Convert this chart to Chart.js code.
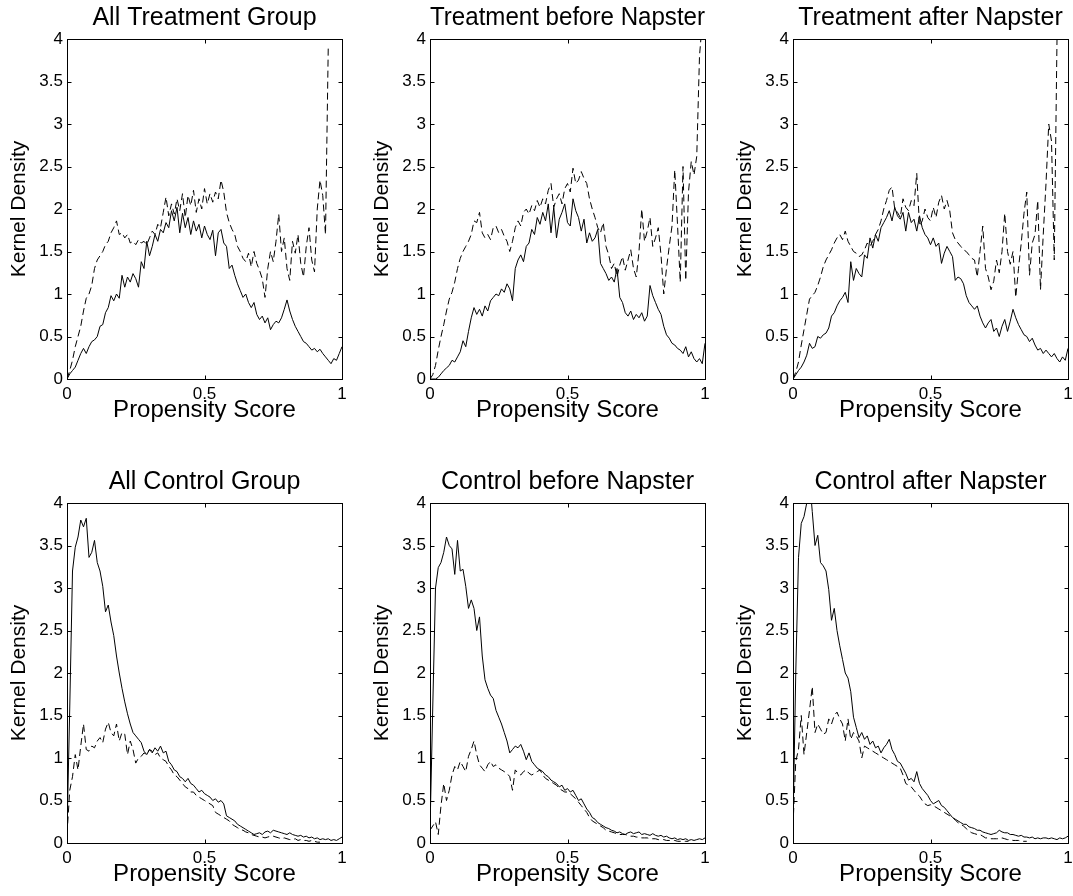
<!doctype html>
<html>

<head>
  <title>Propensity Score Kernel Density</title>
  <script src="https://cdn.jsdelivr.net/npm/chart.js@4.4.0/dist/chart.umd.min.js"></script>
</head>
<style>
  body {
    margin: 0;
    background: #fff;
    overflow: hidden;
    font-family: "Liberation Sans", Arial, sans-serif;
  }

  .panel {
    position: absolute;
  }
</style>

<body>
  <canvas id="p1" class="panel" width="347" height="427" style="left:0px;top:0px"></canvas>
  <canvas id="p2" class="panel" width="347" height="427" style="left:363px;top:0px"></canvas>
  <canvas id="p3" class="panel" width="347" height="427" style="left:726px;top:0px"></canvas>
  <canvas id="p4" class="panel" width="347" height="427" style="left:0px;top:464px"></canvas>
  <canvas id="p5" class="panel" width="347" height="427" style="left:363px;top:464px"></canvas>
  <canvas id="p6" class="panel" width="347" height="427" style="left:726px;top:464px"></canvas>
  <script>
    // propensity score grid
    var GRID = [
      0, 0.01, 0.02, 0.03, 0.04, 0.05, 0.06, 0.07, 0.08, 0.09,
      0.1, 0.11, 0.12, 0.13, 0.14, 0.15, 0.16, 0.17, 0.18, 0.19,
      0.2, 0.21, 0.22, 0.23, 0.24, 0.25, 0.26, 0.27, 0.28, 0.29,
      0.3, 0.31, 0.32, 0.33, 0.34, 0.35, 0.36, 0.37, 0.38, 0.39,
      0.4, 0.41, 0.42, 0.43, 0.44, 0.45, 0.46, 0.47, 0.48, 0.49,
      0.5, 0.51, 0.52, 0.53, 0.54, 0.55, 0.56, 0.57, 0.58, 0.59,
      0.6, 0.61, 0.62, 0.63, 0.64, 0.65, 0.66, 0.67, 0.68, 0.69,
      0.7, 0.71, 0.72, 0.73, 0.74, 0.75, 0.76, 0.77, 0.78, 0.79,
      0.8, 0.81, 0.82, 0.83, 0.84, 0.85, 0.86, 0.87, 0.88, 0.89,
      0.9, 0.91, 0.92, 0.93, 0.94, 0.95, 0.96, 0.97, 0.98, 0.99,
      1
    ];
    var X_TICKS = [0, 0.5, 1];
    var Y_TICKS = [0, 0.5, 1, 1.5, 2, 2.5, 3, 3.5, 4];

    var TREAT_ALL_SOLID = [
      0, 0.06, 0.1, 0.14, 0.22, 0.3, 0.36, 0.3, 0.38, 0.44,
      0.46, 0.5, 0.62, 0.64, 0.78, 0.84, 0.98, 0.92, 1.0, 0.95,
      1.22, 1.08, 1.2, 1.14, 1.24, 1.18, 1.08, 1.38, 1.3, 1.62,
      1.45, 1.56, 1.7, 1.62, 1.76, 1.72, 1.84, 1.78, 1.98, 1.86,
      2.02, 1.72, 1.95, 1.78, 1.9, 1.7, 1.86, 1.74, 1.82, 1.66,
      1.8, 1.7, 1.64, 1.75, 1.45, 1.72, 1.76, 1.6, 1.56, 1.3,
      1.34, 1.22, 1.12, 1.04, 0.96, 1.0, 0.9, 0.84, 0.9, 0.76,
      0.7, 0.74, 0.66, 0.72, 0.58, 0.64, 0.68, 0.66, 0.72, 0.82,
      0.93, 0.8, 0.7, 0.62, 0.56, 0.5, 0.44, 0.42, 0.38, 0.34,
      0.36, 0.32, 0.35, 0.3, 0.26, 0.22, 0.18, 0.24, 0.22, 0.3,
      0.38
    ];
    var TREAT_ALL_DASH = [
      0, 0.1, 0.22, 0.38, 0.5, 0.62, 0.8, 0.95, 1.0, 1.1,
      1.3, 1.4, 1.45, 1.5, 1.58, 1.62, 1.72, 1.78, 1.86, 1.7,
      1.72, 1.66, 1.7, 1.6, 1.62, 1.58, 1.64, 1.6, 1.62, 1.58,
      1.66, 1.74, 1.7, 1.82, 1.78, 1.96, 2.14, 1.92, 2.06, 1.94,
      2.12, 1.98, 2.18, 1.9, 2.16, 2.04, 2.22, 1.96, 2.12, 2.0,
      2.24, 2.06, 2.18, 2.08, 2.2, 2.12, 2.34, 2.2, 1.96, 1.84,
      1.76, 1.7, 1.56, 1.5, 1.42, 1.38, 1.48, 1.32, 1.5, 1.36,
      1.28, 1.18, 0.96, 1.3, 1.5, 1.38, 1.62, 1.94, 1.5, 1.66,
      1.3, 1.16, 1.62, 1.48, 1.7, 1.36, 1.2, 1.56, 1.78, 1.4,
      1.26, 2.0, 2.34, 2.16, 1.7, 3.9, null, null, null, null,
      null
    ];
    var TREAT_BEFORE_SOLID = [
      0, 0, 0, 0.02, 0.06, 0.1, 0.13, 0.16, 0.22, 0.2,
      0.26, 0.32, 0.45, 0.38, 0.56, 0.72, 0.84, 0.76, 0.82, 0.74,
      0.86, 0.8, 0.92, 0.96, 1.0, 0.98, 1.06, 1.02, 1.12, 1.06,
      0.92, 1.3, 1.4, 1.46, 1.38, 1.56, 1.6, 1.76, 1.7, 1.9,
      1.82, 1.96, 1.86, 2.06, 1.72, 2.02, 1.66, 1.88, 1.96, 2.06,
      1.84, 1.8, 2.12, 1.98, 1.9, 1.74, 1.88, 1.6, 1.72, 1.62,
      1.66, 1.76, 1.36, 1.3, 1.24, 1.16, 1.2, 1.14, 1.3, 0.96,
      0.9, 0.78, 0.74, 0.8, 0.7, 0.76, 0.72, 0.78, 0.68, 0.74,
      1.1, 0.98, 0.9, 0.82, 0.76, 0.62, 0.52, 0.48, 0.42, 0.4,
      0.36, 0.34, 0.3, 0.38, 0.26, 0.32, 0.24, 0.2, 0.24, 0.18,
      0.42
    ];
    var TREAT_BEFORE_DASH = [
      0, 0.05, 0.16, 0.34, 0.5, 0.64, 0.8, 0.94, 1.02, 1.14,
      1.3, 1.42, 1.5, 1.56, 1.62, 1.7, 1.86, 1.84, 1.96, 1.72,
      1.66, 1.7, 1.64, 1.78, 1.8, 1.72, 1.76, 1.68, 1.62, 1.5,
      1.62, 1.78, 1.86, 1.8, 1.96, 2.0, 1.94, 2.04, 1.98, 2.1,
      2.02, 2.12, 2.06, 2.22, 2.3, 2.02, 2.12, 2.18, 2.06, 2.24,
      2.3, 2.2, 2.48, 2.3, 2.34, 2.44, 2.36, 2.3, 2.12, 2.0,
      1.9, 1.78, 1.72, 1.84, 1.56, 1.46, 1.3, 1.36, 1.2, 1.34,
      1.44, 1.28, 1.4, 1.52, 1.3, 1.2, 1.5, 2.0, 1.62, 1.74,
      1.9, 1.56, 1.66, 1.78, 1.46, 1.0, 1.3, 1.56, 1.8, 2.46,
      1.82, 1.14, 2.5, 1.16, 2.2, 2.56, 2.4, 2.62, 3.8, 4.2,
      4.4
    ];
    var TREAT_AFTER_SOLID = [
      0, 0.05, 0.1, 0.14, 0.2, 0.28, 0.42, 0.36, 0.38, 0.5,
      0.48, 0.52, 0.54, 0.6, 0.74, 0.78, 0.86, 0.92, 0.96, 1.02,
      0.9, 1.38, 1.16, 1.3, 1.24, 1.2, 1.46, 1.42, 1.66, 1.54,
      1.7, 1.62, 1.78, 1.84, 1.9, 1.98, 1.86, 2.02, 1.92, 1.88,
      1.96, 1.74, 1.96, 1.84, 1.88, 1.74, 1.92, 1.78, 1.7, 1.66,
      1.58, 1.66, 1.56, 1.6, 1.36, 1.48, 1.56, 1.5, 1.44, 1.16,
      1.2, 1.18, 1.12, 0.98, 0.9, 0.86, 0.82, 0.86, 0.74, 0.66,
      0.6, 0.66, 0.7, 0.56, 0.6, 0.5, 0.62, 0.7, 0.56, 0.68,
      0.82, 0.72, 0.64, 0.58, 0.52, 0.5, 0.44, 0.48, 0.4, 0.34,
      0.36, 0.3, 0.34, 0.3, 0.26, 0.3, 0.24, 0.2, 0.26, 0.22,
      0.36
    ];
    var TREAT_AFTER_DASH = [
      0, 0.08, 0.2, 0.4, 0.58, 0.76, 0.94, 0.98, 1.02, 1.1,
      1.2, 1.32, 1.4, 1.46, 1.52, 1.6, 1.66, 1.7, 1.64, 1.74,
      1.62, 1.56, 1.5, 1.48, 1.44, 1.46, 1.52, 1.6, 1.56, 1.62,
      1.7, 1.76, 1.86, 2.0, 2.1, 2.22, 2.26, 2.0, 1.96, 1.9,
      2.12, 2.02, 1.98, 2.1, 2.04, 2.42, 1.8, 1.86, 2.0, 1.9,
      1.86, 2.02, 1.9, 2.08, 2.16, 2.0, 2.1, 1.98, 1.72, 1.64,
      1.6, 1.56, 1.52, 1.5, 1.46, 1.42, 1.4, 1.2, 1.5, 1.8,
      1.3, 1.2, 1.05, 1.15, 1.4, 1.25, 1.5, 1.95, 1.5, 1.35,
      1.5, 0.96, 1.3, 1.6, 1.95, 2.2, 1.22, 1.6, 1.7, 2.1,
      1.05, 1.7, 2.3, 3.0, 2.8, 1.4, 4.0, null, null, null,
      null
    ];
    var CTRL_ALL_SOLID = [
      0.12, 1.6, 3.2, 3.48, 3.6, 3.8, 3.72, 3.82, 3.36, 3.42,
      3.56, 3.3, 3.2, 3.02, 2.72, 2.8, 2.6, 2.44, 2.2, 2.0,
      1.82, 1.66, 1.52, 1.4, 1.3, 1.26, 1.22, 1.18, 1.08, 1.04,
      1.1, 1.06, 1.12, 1.08, 1.14, 1.06, 1.08, 0.96, 0.92, 0.86,
      0.84, 0.78, 0.76, 0.72, 0.76, 0.7, 0.68, 0.64, 0.6, 0.62,
      0.58, 0.56, 0.54, 0.5, 0.52, 0.48, 0.5, 0.46, 0.32, 0.3,
      0.28, 0.26, 0.22, 0.2, 0.18, 0.16, 0.14, 0.12, 0.1, 0.11,
      0.12, 0.1, 0.13, 0.14, 0.12, 0.15, 0.14, 0.13, 0.12, 0.11,
      0.1, 0.12, 0.1, 0.09, 0.08, 0.09, 0.07, 0.08, 0.06, 0.07,
      0.05, 0.06, 0.04, 0.05, 0.04, 0.05, 0.03, 0.04, 0.03, 0.05,
      0.07
    ];
    var CTRL_ALL_DASH = [
      0.1, 0.62, 0.78, 1.04, 0.86, 1.14, 1.4, 1.1, 1.08, 1.14,
      1.12, 1.2, 1.24, 1.18, 1.34, 1.42, 1.3, 1.26, 1.4, 1.2,
      1.3, 1.28, 1.04, 1.2, 1.1, 0.94, 1.0, 1.02, 1.06, 1.04,
      1.1, 1.08, 1.04, 1.06, 1.0, 0.98, 0.96, 0.9, 0.86, 0.8,
      0.78, 0.74, 0.7, 0.66, 0.64, 0.6, 0.6, 0.56, 0.54, 0.52,
      0.5, 0.48, 0.46, 0.44, 0.36, 0.34, 0.32, 0.3, 0.28, 0.26,
      0.22, 0.2, 0.18, 0.16, 0.15, 0.13, 0.12, 0.1, 0.09, 0.08,
      0.07, 0.07, 0.06, 0.07, 0.08, 0.08, 0.07, 0.06, 0.05, 0.06,
      0.05, 0.04, 0.04, 0.05, 0.03, 0.04, 0.03, 0.03, 0.02, 0.03,
      0.02, 0.01, 0.01, null, null, null, null, null, null, null,
      null
    ];
    var CTRL_BEFORE_SOLID = [
      0.15, 1.6, 3.0, 3.24, 3.3, 3.42, 3.6, 3.5, 3.46, 3.16,
      3.56, 3.2, 3.22, 3.02, 2.76, 2.86, 2.76, 2.5, 2.66, 2.2,
      1.92, 1.82, 1.74, 1.7, 1.56, 1.48, 1.4, 1.3, 1.2, 1.06,
      1.1, 1.14, 1.12, 1.16, 1.08, 0.98, 1.06, 0.96, 0.92, 0.88,
      0.86, 0.84, 0.8, 0.78, 0.74, 0.72, 0.7, 0.66, 0.68, 0.62,
      0.64, 0.6, 0.62, 0.56, 0.5, 0.52, 0.46, 0.4, 0.36, 0.3,
      0.28, 0.24, 0.22, 0.2, 0.18, 0.17, 0.15, 0.14, 0.12, 0.13,
      0.11, 0.1, 0.12, 0.13, 0.11, 0.12, 0.13, 0.1, 0.11, 0.1,
      0.09, 0.11, 0.09, 0.08, 0.09, 0.07, 0.08, 0.06, 0.05, 0.06,
      0.04, 0.05, 0.04, 0.05, 0.03, 0.04, 0.03, 0.04, 0.05, 0.04,
      0.06
    ];
    var CTRL_BEFORE_DASH = [
      0.15, 0.2, 0.25, 0.1, 0.44, 0.7, 0.5, 0.62, 0.8, 0.9,
      0.86, 0.96, 0.9, 0.84, 1.02, 1.1, 1.2, 1.04, 0.92, 0.88,
      0.84, 0.92, 0.96, 0.9, 0.92, 0.88, 0.86, 0.84, 0.82, 0.78,
      0.62, 0.86, 0.82, 0.8, 0.84, 0.86, 0.82, 0.8, 0.82, 0.84,
      0.86, 0.8, 0.76, 0.74, 0.72, 0.7, 0.68, 0.64, 0.62, 0.6,
      0.6, 0.58, 0.55, 0.52, 0.48, 0.44, 0.4, 0.36, 0.3, 0.26,
      0.24, 0.22, 0.2, 0.18, 0.15, 0.14, 0.13, 0.12, 0.11, 0.1,
      0.1, 0.1, 0.09, 0.08, 0.08, 0.07, 0.07, 0.06, 0.06, 0.06,
      0.05, 0.05, 0.05, 0.04, 0.04, 0.04, 0.03, 0.03, 0.03, 0.03,
      0.02, 0.02, 0.02, 0.02, 0.02, null, null, null, null, null,
      null
    ];
    var CTRL_AFTER_SOLID = [
      0.2, 2.0, 3.36, 3.76, 3.84, 4.0, 4.3, 3.9, 3.5, 3.62,
      3.3, 3.26, 3.2, 2.98, 2.62, 2.76, 2.5, 2.32, 2.16, 2.0,
      1.94, 1.78, 1.48, 1.36, 1.24, 1.3, 1.22, 1.26, 1.16, 1.2,
      1.12, 1.14, 1.06, 1.12, 1.16, 1.22, 1.1, 1.04, 0.96, 0.94,
      0.88, 0.82, 0.74, 0.76, 0.72, 0.84, 0.7, 0.64, 0.6, 0.56,
      0.5, 0.46, 0.48, 0.5, 0.44, 0.42, 0.38, 0.34, 0.3, 0.28,
      0.26, 0.24, 0.22, 0.22, 0.19, 0.18, 0.17, 0.15, 0.15, 0.13,
      0.12, 0.11, 0.1, 0.11, 0.12, 0.15, 0.13, 0.12, 0.12, 0.1,
      0.1, 0.09, 0.08, 0.09, 0.07, 0.07, 0.06, 0.07, 0.05, 0.06,
      0.05, 0.06, 0.06, 0.05, 0.06, 0.05, 0.04, 0.06, 0.05, 0.06,
      0.08
    ];
    var CTRL_AFTER_DASH = [
      0.2, 0.96, 1.1, 1.5, 1.04, 1.3, 1.56, 1.84, 1.3, 1.4,
      1.34, 1.28, 1.3, 1.46, 1.4, 1.5, 1.54, 1.46, 1.4, 1.2,
      1.46, 1.22, 1.3, 1.26, 1.2, 1.0, 1.14, 1.12, 1.1, 1.08,
      1.06, 1.04, 1.02, 1.0, 0.98, 0.96, 0.94, 0.92, 0.9, 0.88,
      0.8, 0.7, 0.68, 0.66, 0.62, 0.58, 0.55, 0.5, 0.46, 0.44,
      0.45, 0.44, 0.42, 0.4, 0.38, 0.36, 0.34, 0.32, 0.3, 0.27,
      0.24, 0.22, 0.2, 0.17, 0.14, 0.12, 0.11, 0.1, 0.1, 0.08,
      0.06, 0.06, 0.05, 0.05, 0.05, 0.05, 0.06, 0.05, 0.04, 0.04,
      0.03, 0.03, 0.03, 0.02, 0.02, 0.02, null, null, null, null,
      null, null, null, null, null, null, null, null, null, null,
      null
    ];

    Chart.defaults.font.family = '"Liberation Sans", Arial, sans-serif';
    Chart.defaults.color = '#000';

    // matlab style box with inward ticks on all four sides
    var frameTicks = {
      id: 'frameTicks',
      afterDraw: function (chart) {
        var ctx = chart.ctx, a = chart.chartArea;
        var xs = chart.scales.x, ys = chart.scales.y;
        var l = Math.round(a.left) + 0.5, r = Math.round(a.right) + 0.5;
        var t = Math.round(a.top) + 0.5, b = Math.round(a.bottom) + 0.5;
        ctx.save();
        ctx.strokeStyle = '#000';
        ctx.lineWidth = 1;
        ctx.setLineDash([]);
        ctx.strokeRect(l, t, r - l, b - t);
        ctx.beginPath();
        ys.ticks.forEach(function (tk) {
          var py = Math.round(ys.getPixelForValue(tk.value)) + 0.5;
          ctx.moveTo(l, py); ctx.lineTo(l + 4, py);
          ctx.moveTo(r, py); ctx.lineTo(r - 4, py);
        });
        xs.ticks.forEach(function (tk) {
          var px = Math.round(xs.getPixelForValue(tk.value)) + 0.5;
          ctx.moveTo(px, b); ctx.lineTo(px, b - 4);
          ctx.moveTo(px, t); ctx.lineTo(px, t + 4);
        });
        ctx.stroke();
        ctx.restore();
      }
    };

    function tickLabel(v) {
      return String(+v.toFixed(1));
    }

    function renderPanel(id, title, solid, dashed) {
      var ctx = document.getElementById(id).getContext('2d');
      return new Chart(ctx, {
        type: 'line',
        data: {
          labels: GRID,
          datasets: [{
            data: solid,
            borderColor: '#000',
            borderWidth: 1,
            pointRadius: 0,
            fill: false,
            tension: 0
          }, {
            data: dashed,
            borderColor: '#000',
            borderWidth: 1,
            borderDash: [7, 4],
            pointRadius: 0,
            fill: false,
            tension: 0
          }]
        },
        options: {
          responsive: false,
          animation: false,
          events: [],
          layout: { padding: { left: 0, right: 5, top: 0, bottom: 0 } },
          plugins: {
            legend: { display: false },
            tooltip: { enabled: false }
          },
          scales: {
            x: {
              type: 'linear',
              min: 0,
              max: 1,
              grid: { display: false, drawTicks: false },
              border: { display: false },
              afterBuildTicks: function (s) {
                s.ticks = X_TICKS.map(function (v) { return { value: v }; });
              },
              ticks: { font: { size: 17 }, padding: 5, maxRotation: 0, callback: tickLabel },
              title: {
                display: true,
                text: 'Propensity Score',
                font: { size: 24 },
                padding: { top: 0, bottom: 2 }
              },
              afterFit: function (s) {
                s.height = 48;
                s.paddingLeft = 0;
                s.paddingRight = 0;
              }
            },
            // top axis only carries the panel title, centred on the plot box
            top: {
              type: 'linear',
              position: 'top',
              min: 0,
              max: 1,
              grid: { display: false, drawTicks: false },
              border: { display: false },
              ticks: { display: false },
              title: {
                display: true,
                text: title,
                font: { size: 25 },
                padding: { top: 3, bottom: 0 }
              },
              afterFit: function (s) {
                s.height = 39;
                s.paddingLeft = 0;
                s.paddingRight = 0;
              }
            },
            y: {
              min: 0,
              max: 4,
              grid: { display: false, drawTicks: false },
              border: { display: false },
              afterBuildTicks: function (s) {
                s.ticks = Y_TICKS.map(function (v) { return { value: v }; });
              },
              ticks: { font: { size: 17 }, padding: 4, callback: tickLabel },
              title: {
                display: true,
                text: 'Kernel Density',
                font: { size: 21 },
                padding: { top: 7, bottom: 0 }
              },
              afterFit: function (s) { s.width = 67; }
            }
          }
        },
        plugins: [frameTicks]
      });
    }

    renderPanel('p1', 'All Treatment Group', TREAT_ALL_SOLID, TREAT_ALL_DASH);
    renderPanel('p2', 'Treatment before Napster', TREAT_BEFORE_SOLID, TREAT_BEFORE_DASH);
    renderPanel('p3', 'Treatment after Napster', TREAT_AFTER_SOLID, TREAT_AFTER_DASH);
    renderPanel('p4', 'All Control Group', CTRL_ALL_SOLID, CTRL_ALL_DASH);
    renderPanel('p5', 'Control before Napster', CTRL_BEFORE_SOLID, CTRL_BEFORE_DASH);
    renderPanel('p6', 'Control after Napster', CTRL_AFTER_SOLID, CTRL_AFTER_DASH);
  </script>
</body>

</html>
